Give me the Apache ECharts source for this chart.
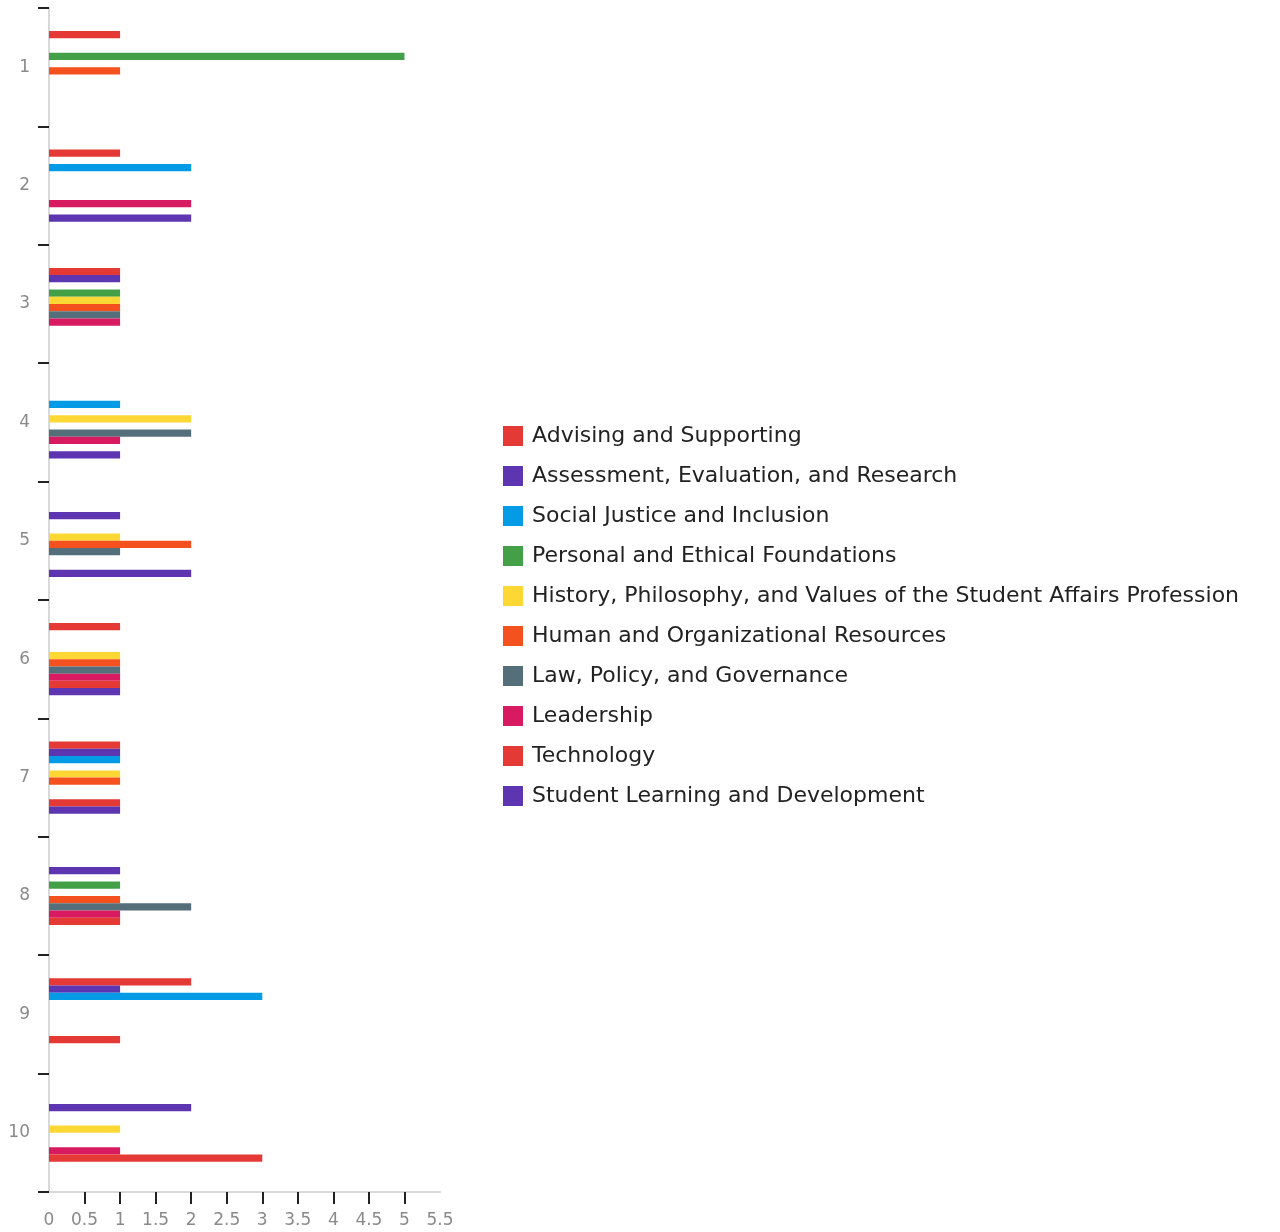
<!DOCTYPE html>
<html>
<head>
<meta charset="utf-8">
<script src="https://cdn.jsdelivr.net/npm/echarts@6/dist/echarts.min.js"></script>
<style>html,body{margin:0;padding:0;background:#fff;}#c{width:1280px;height:1232px;}</style>
</head>
<body>
<div id="c"></div>
<script>
const categories = ['1','2','3','4','5','6','7','8','9','10'];
const xTickValues = [0.5,1,1.5,2,2.5,3,3.5,4,4.5,5];
const seriesNames = [
  'Advising and Supporting',
  'Assessment, Evaluation, and Research',
  'Social Justice and Inclusion',
  'Personal and Ethical Foundations',
  'History, Philosophy, and Values of the Student Affairs Profession',
  'Human and Organizational Resources',
  'Law, Policy, and Governance',
  'Leadership',
  'Technology',
  'Student Learning and Development'
];
const seriesColors = ['#e53935','#5e35b1','#039be5','#43a047','#fdd835','#f4511e','#546e7a','#d81b60','#e53935','#5e35b1'];
// values per category 1..10 (null = no bar)
const advising        = [1,1,1,null,null,1,1,null,2,null];
const assessment      = [null,null,1,null,1,null,1,1,1,2];
const socialJustice   = [null,2,null,1,null,null,1,null,3,null];
const personal        = [5,null,1,null,null,null,null,1,null,null];
const history         = [null,null,1,2,1,1,1,null,null,1];
const humanOrg        = [1,null,1,null,2,1,1,1,null,null];
const lawPolicy       = [null,null,1,2,1,1,null,2,null,null];
const leadership      = [null,2,1,1,null,1,null,1,null,1];
const technology      = [null,null,null,null,null,1,1,1,1,3];
const studentLearning = [null,2,null,1,2,1,1,null,null,null];

const allValues = [advising,assessment,socialJustice,personal,history,humanOrg,lawPolicy,leadership,technology,studentLearning];

const chart = echarts.init(document.getElementById('c'), null, {renderer:'canvas'});
const font = '"DejaVu Sans", sans-serif';
chart.setOption({
  animation:false,
  grid:{left:49,right:840,top:8,bottom:40,containLabel:false},
  xAxis:{
    type:'value', min:0, max:5.5, interval:0.5,
    axisLine:{show:true,lineStyle:{color:'#d9d9d9',width:2}},
    axisTick:{show:true,length:12,customValues:xTickValues,lineStyle:{color:'#222',width:2}},
    splitLine:{show:false},
    axisLabel:{color:'#8a8a8a',fontSize:17,fontFamily:font,margin:20,
      formatter:function(v){return String(v);}}
  },
  yAxis:{
    type:'category', data:categories, inverse:true,
    axisLine:{show:true,lineStyle:{color:'#d9d9d9',width:2}},
    axisTick:{show:true,length:11,lineStyle:{color:'#222',width:2}},
    axisLabel:{color:'#8a8a8a',fontSize:17,fontFamily:font,margin:19,padding:[6,0,0,0]}
  },
  legend:{
    orient:'vertical', left:498, top:420,
    itemWidth:20, itemHeight:20, itemGap:18, icon:'rect',
    textStyle:{color:'#222',fontSize:22,lineHeight:20,fontFamily:font,padding:[0,0,0,4]},
    data:seriesNames
  },
  series: seriesNames.map(function(n,i){
    return {
      name:n, type:'bar', data:allValues[i],
      barGap:'0%', barCategoryGap:'39%',
      itemStyle:{color:seriesColors[i]}
    };
  })
});
</script>
</body>
</html>
